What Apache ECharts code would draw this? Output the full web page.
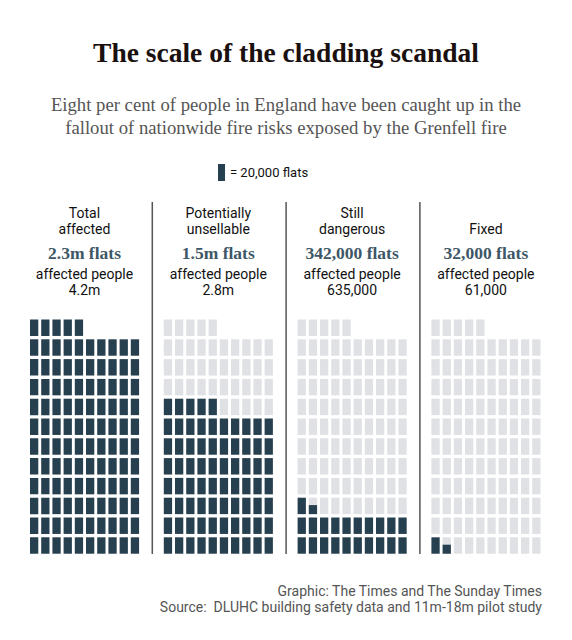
<!DOCTYPE html>
<html>
<head>
<meta charset="utf-8">
<title>The scale of the cladding scandal</title>
<script src="https://cdn.jsdelivr.net/npm/echarts@6/dist/echarts.min.js"></script>
<style>
  html, body { margin: 0; padding: 0; background: #fff; }
  #chart { width: 572px; height: 640px; }
</style>
</head>
<body>
<div id="chart"></div>
<script>
'use strict';

// panel headings, one array of lines per panel
var categories = [['Total', 'affected'], ['Potentially', 'unsellable'], ['Still', 'dangerous'], ['Fixed']];
var flatsLabels = ['2.3m flats', '1.5m flats', '342,000 flats', '32,000 flats'];
var peopleLabels = ['4.2m', '2.8m', '635,000', '61,000'];

// filled squares per panel (1 square = 20,000 flats)
var filledCells = [115, 75, 21.55, 1.55];
var gridCells = 115;
var cellsPerRow = 10;
var rowsCount = 12;

var DARK = '#27404f';
var GREY = '#dfe1e4';

var panelLeft = 30;
var panelStep = 133.8;
var gridWidth = 112;
var gridTop = 319.5;
var gridHeight = 237.6;

function cellData(filled) {
  var out = [];
  for (var k = 0; k < gridCells; k++) {
    var fill = 0;
    if (k < Math.floor(filled)) {
      fill = 1;
    } else if (k === Math.floor(filled)) {
      fill = filled - Math.floor(filled);
    }
    out.push([k % cellsPerRow, Math.floor(k / cellsPerRow), fill]);
  }
  return out;
}

function renderCell(params, api) {
  var col = api.value(0);
  var row = api.value(1);
  var fill = api.value(2);
  var topLeft = api.coord([col, row + 1]);
  var size = api.size([1, 1]);
  var w = size[0] * 0.74;
  var h = size[1] * 0.83;
  var children = [];
  if (fill < 1) {
    children.push({
      type: 'rect',
      shape: { x: topLeft[0], y: topLeft[1], width: w, height: h },
      style: { fill: GREY },
    });
  }
  if (fill > 0) {
    children.push({
      type: 'rect',
      shape: { x: topLeft[0], y: topLeft[1] + h * (1 - fill), width: w, height: h * fill },
      style: { fill: DARK },
    });
  }
  return { type: 'group', children: children };
}

function centredText(text, x, y, font, fill) {
  return {
    type: 'text',
    style: {
      text: text,
      x: x,
      y: y,
      align: 'center',
      verticalAlign: 'middle',
      font: font,
      fill: fill,
    },
  };
}

var grids = [];
var xAxes = [];
var yAxes = [];
var series = [];
var graphics = [];

categories.forEach(function (lines, i) {
  var left = panelLeft + i * panelStep;
  var cx = left + gridWidth / 2 - 1.5;

  grids.push({ left: left, top: gridTop, width: gridWidth, height: gridHeight });
  xAxes.push({ gridIndex: i, type: 'value', min: 0, max: cellsPerRow, show: false });
  yAxes.push({ gridIndex: i, type: 'value', min: 0, max: rowsCount, show: false });
  series.push({
    type: 'custom',
    xAxisIndex: i,
    yAxisIndex: i,
    silent: true,
    renderItem: renderCell,
    data: cellData(filledCells[i]),
  });

  // heading lines sit on the bottom, so a single line lines up with the second one
  for (var j = 0; j < lines.length; j++) {
    graphics.push(centredText(lines[j], cx, 229 - (lines.length - 1 - j) * 16, '14px Roboto', '#111'));
  }
  graphics.push(centredText(flatsLabels[i], cx, 253, 'bold 17.5px "Liberation Serif"', '#3d5766'));
  graphics.push(centredText('affected people', cx, 273.5, '14px Roboto', '#111'));
  graphics.push(centredText(peopleLabels[i], cx, 290, '14px Roboto', '#111'));

  if (i > 0) {
    graphics.push({
      type: 'line',
      shape: { x1: left - 11.5, y1: 202, x2: left - 11.5, y2: 554 },
      style: { stroke: '#555', lineWidth: 1.5 },
    });
  }
});

graphics.push(centredText('The scale of the cladding scandal', 286, 52, 'bold 27.5px "Liberation Serif"', '#1a1010'));
graphics.push({
  type: 'text',
  style: {
    text: 'Eight per cent of people in England have been caught up in the\nfallout of nationwide fire risks exposed by the Grenfell fire',
    x: 286, y: 116,
    align: 'center', verticalAlign: 'middle',
    font: '18.7px "Liberation Serif"',
    lineHeight: 23,
    fill: '#555',
  },
});
// legend key
graphics.push({
  type: 'rect',
  shape: { x: 218, y: 164, width: 7, height: 17 },
  style: { fill: DARK },
});
graphics.push({
  type: 'text',
  style: {
    text: '= 20,000 flats',
    x: 230, y: 172.5,
    align: 'left', verticalAlign: 'middle',
    font: '13px Roboto',
    fill: '#111',
  },
});
graphics.push({
  type: 'text',
  style: {
    text: 'Graphic: The Times and The Sunday Times\nSource:  DLUHC building safety data and 11m-18m pilot study',
    x: 542, y: 599,
    align: 'right', verticalAlign: 'middle',
    font: '14px Roboto',
    lineHeight: 16,
    fill: '#555',
  },
});

var myChart = echarts.init(document.getElementById('chart'), null, { renderer: 'svg' });
myChart.setOption({
  animation: false,
  backgroundColor: '#fff',
  grid: grids,
  xAxis: xAxes,
  yAxis: yAxes,
  series: series,
  graphic: graphics,
});
</script>
</body>
</html>
